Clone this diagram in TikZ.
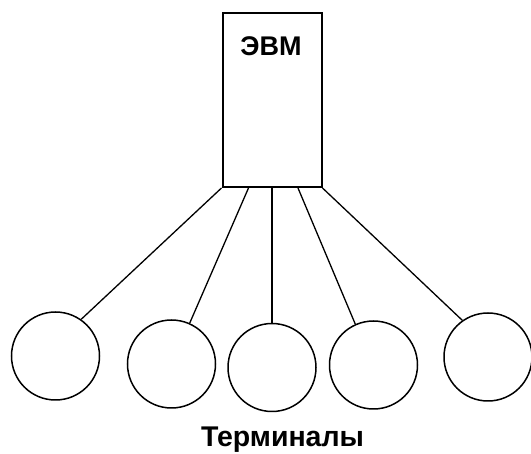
\documentclass[tikz,border=0pt]{standalone}
\usepackage{fontspec}
\setmainfont{Liberation Sans}
\begin{document}
\begin{tikzpicture}[x=1pt,y=-1pt,
  comp/.style={draw,line width=2pt,minimum width=99pt,minimum height=174pt,inner sep=0pt},
  term/.style={draw,circle,line width=1.5pt,minimum size=88pt,inner sep=0pt},
  link/.style={line width=1.3pt},
  lbl/.style={font=\bfseries\fontsize{27}{29}\selectfont}]
\useasboundingbox (0,0) rectangle (531,454);
\node[comp] (evm) at (272,100) {};
\node[lbl] (evmt) at (271,46) {ЭВМ};
\node[term] (t1) at (55.5,356) {};
\node[term] (t2) at (171.5,364) {};
\node[term] (t3) at (272,367.5) {};
\node[term] (t4) at (373.5,365) {};
\node[term] (t5) at (488,357) {};
\node[font=\bfseries\fontsize{28.5}{30}\selectfont] (term) at (282.5,440) {Терминалы};
\coordinate (s2) at ([xshift=-23.5pt]evm.south);
\coordinate (s4) at ([xshift=26pt]evm.south);
\draw[link] (evm.south west) -- (t1.55);
\draw[link] (s2) -- (t2.66);
\draw[link,line width=1.8pt] (evm.south) -- (t3.north);
\draw[link] (s4) -- (t4.114);
\draw[link] (evm.south east) -- (t5.125);
\end{tikzpicture}
\end{document}
